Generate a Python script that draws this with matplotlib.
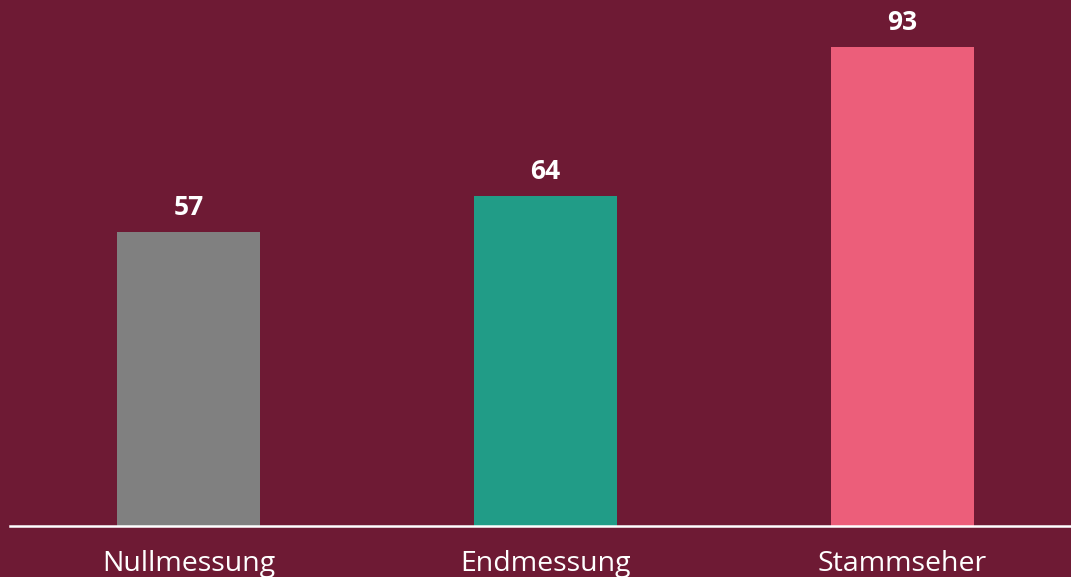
import matplotlib.pyplot as plt

# data
categories = ["Nullmessung", "Endmessung", "Stammseher"]
values = [57, 64, 93]
colors = ["#808080", "#219C87", "#EC5E7A"]

bg = "#6E1A34"

fig = plt.figure(figsize=(10.71, 5.77), dpi=100, facecolor=bg)

# axes placed so that y=0 sits on the white baseline
ax = fig.add_axes([10 / 1071, 51 / 577, 1071 / 1071, 515 / 577])
ax.set_facecolor(bg)

x = range(len(categories))
ax.bar(x, values, width=0.4, color=colors, zorder=2)

for xi, v in zip(x, values):
    ax.text(xi, v + 2.2, str(v), ha="center", va="bottom", color="white",
            fontsize=19, fontweight="bold", family="Open Sans")

ax.set_xlim(-0.5, 2.5)
ax.set_ylim(0, 100)

ax.set_xticks(list(x))
ax.set_xticklabels(categories, color="white", fontsize=20.5, family="Open Sans")
ax.tick_params(axis="x", length=0, pad=17)
ax.set_yticks([])

for side in ["top", "left", "right"]:
    ax.spines[side].set_visible(False)
ax.spines["bottom"].set_color("white")
ax.spines["bottom"].set_linewidth(1.8)
ax.spines["bottom"].set_zorder(3)

fig.savefig("out.png", dpi=100, facecolor=bg)
